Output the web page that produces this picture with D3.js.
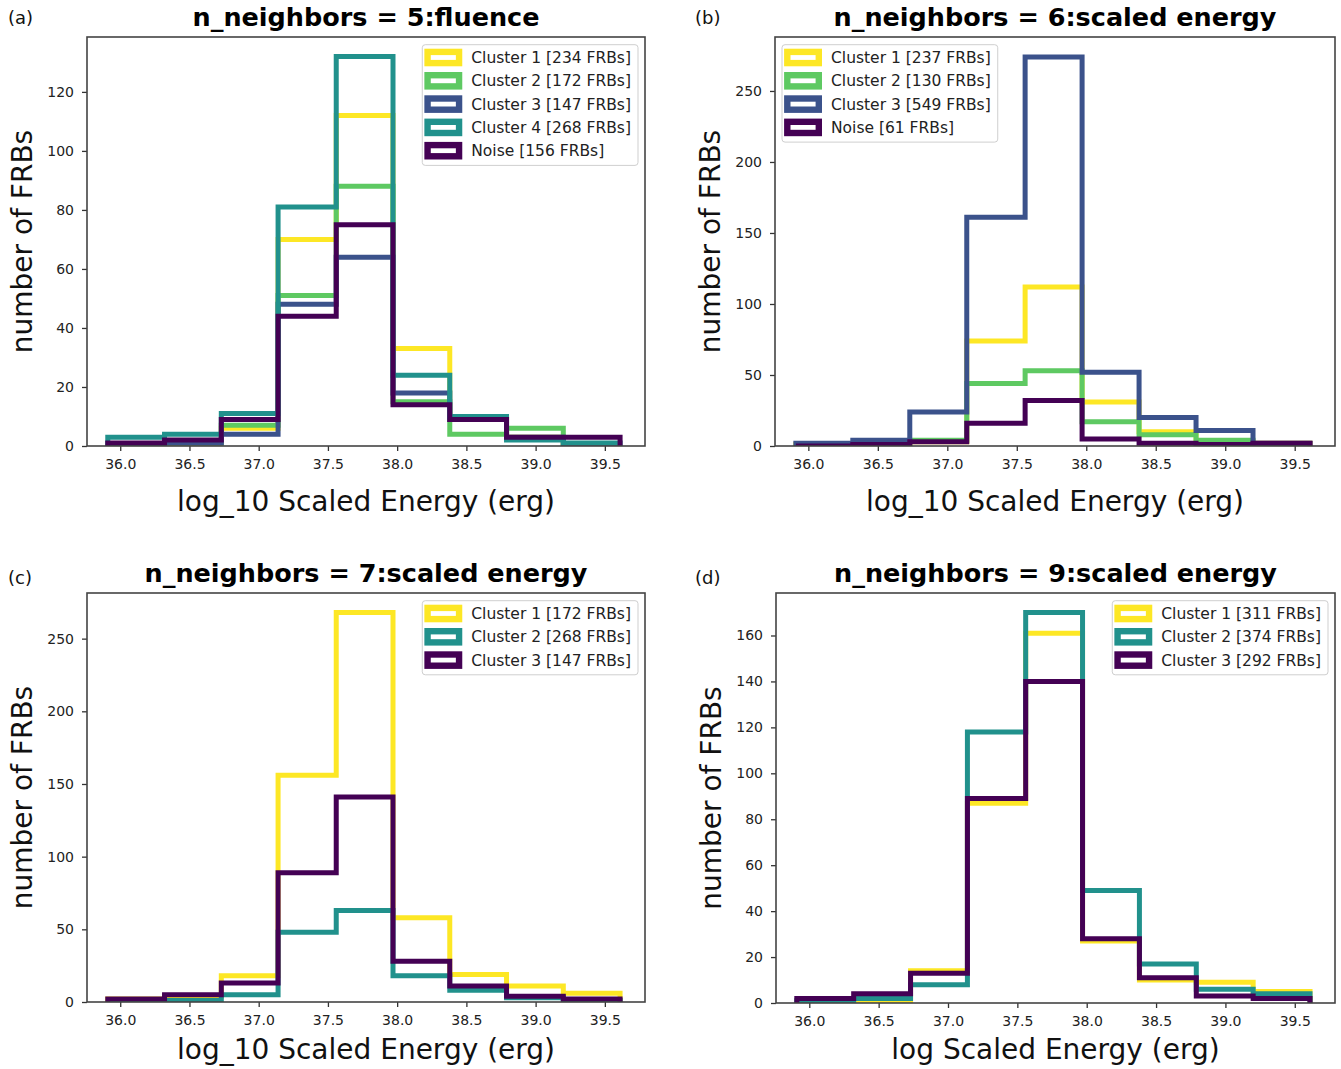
<!DOCTYPE html>
<html>
<head>
<meta charset="utf-8">
<script src="https://cdn.jsdelivr.net/npm/d3@7"></script>
<style>
  body { margin: 0; background: #fff; }
  svg { font-family: "DejaVu Sans", sans-serif; }
</style>
</head>
<body>
<svg id="fig" width="1341" height="1069"></svg>
<script>
// bin edges of the histograms (log10 scaled energy), shared by all panels
var binEdges = [35.91, 36.32, 36.73, 37.14, 37.56, 37.97, 38.38, 38.79, 39.20, 39.61];
var xTicks = [36.0, 36.5, 37.0, 37.5, 38.0, 38.5, 39.0, 39.5];

// (a) n_neighbors = 5 : fluence
var aLabels = ["Cluster 1 [234 FRBs]", "Cluster 2 [172 FRBs]", "Cluster 3 [147 FRBs]", "Cluster 4 [268 FRBs]", "Noise [156 FRBs]"];
var aCluster1 = [0, 1, 6, 70, 112, 33, 9, 3, 0];
var aCluster2 = [0, 1, 7, 51, 88, 15, 4, 6, 0];
var aCluster3 = [0, 1, 4, 48, 64, 18, 9, 3, 0];
var aCluster4 = [3, 4, 11, 81, 132, 24, 10, 2, 1];
var aNoise    = [1, 2, 9, 44, 75, 14, 9, 3, 3];
var aYTicks = [0, 20, 40, 60, 80, 100, 120];

// (b) n_neighbors = 6 : scaled energy
var bLabels = ["Cluster 1 [237 FRBs]", "Cluster 2 [130 FRBs]", "Cluster 3 [549 FRBs]", "Noise [61 FRBs]"];
var bCluster1 = [1, 1, 3, 74, 112, 31, 10, 3, 2];
var bCluster2 = [0, 0, 4, 44, 53, 17, 8, 4, 0];
var bCluster3 = [2, 4, 24, 161, 274, 52, 20, 11, 2];
var bNoise    = [0, 1, 3, 16, 32, 5, 2, 1, 2];
var bYTicks = [0, 50, 100, 150, 200, 250];

// (c) n_neighbors = 7 : scaled energy
var cLabels = ["Cluster 1 [172 FRBs]", "Cluster 2 [268 FRBs]", "Cluster 3 [147 FRBs]"];
var cCluster1 = [2, 4, 18, 156, 268, 58, 19, 11, 6];
var cCluster2 = [0, 1, 5, 48, 63, 18, 8, 3, 1];
var cCluster3 = [2, 5, 13, 89, 141, 28, 11, 4, 2];
var cYTicks = [0, 50, 100, 150, 200, 250];

// (d) n_neighbors = 9 : scaled energy
var dLabels = ["Cluster 1 [311 FRBs]", "Cluster 2 [374 FRBs]", "Cluster 3 [292 FRBs]"];
var dCluster1 = [0, 1, 14, 87, 161, 27, 10, 9, 5];
var dCluster2 = [1, 2, 8, 118, 170, 49, 17, 6, 4];
var dCluster3 = [2, 4, 13, 89, 140, 28, 11, 3, 2];
var dYTicks = [0, 20, 40, 60, 80, 100, 120, 140, 160];

// viridis picks
var yellow = "#fde725", green = "#5ec962", teal = "#21918c", blue = "#3b528b", purple = "#440154";

var svg = d3.select("#fig");

var panels = [
  {tag: "(a)", tagX: 8, tagY: 24, title: "n_neighbors = 5:fluence", xlabel: "log_10 Scaled Energy (erg)",
   left: 87, top: 37, width: 558, height: 409, yMax: 138.6, yTicks: aYTicks, xlabelOff: 65,
   labels: aLabels, counts: [aCluster1, aCluster2, aCluster3, aCluster4, aNoise],
   colors: [yellow, green, blue, teal, purple], legend: "right"},
  {tag: "(b)", tagX: 695, tagY: 24, title: "n_neighbors = 6:scaled energy", xlabel: "log_10 Scaled Energy (erg)",
   left: 775, top: 37, width: 560, height: 409, yMax: 288, yTicks: bYTicks, xlabelOff: 65,
   labels: bLabels, counts: [bCluster1, bCluster2, bCluster3, bNoise],
   colors: [yellow, green, blue, purple], legend: "left"},
  {tag: "(c)", tagX: 8, tagY: 584, title: "n_neighbors = 7:scaled energy", xlabel: "log_10 Scaled Energy (erg)",
   left: 87, top: 593, width: 558, height: 409, yMax: 281.4, yTicks: cYTicks, xlabelOff: 57,
   labels: cLabels, counts: [cCluster1, cCluster2, cCluster3],
   colors: [yellow, teal, purple], legend: "right"},
  {tag: "(d)", tagX: 695, tagY: 584, title: "n_neighbors = 9:scaled energy", xlabel: "log Scaled Energy (erg)",
   left: 776, top: 593, width: 559, height: 410, yMax: 178.5, yTicks: dYTicks, xlabelOff: 56,
   labels: dLabels, counts: [dCluster1, dCluster2, dCluster3],
   colors: [yellow, teal, purple], legend: "right"}
];

function drawPanel(p, idx) {
  var g = svg.append("g").attr("transform", `translate(${p.left},${p.top})`);

  var x = d3.scaleLinear().domain([35.76, 39.79]).range([0, p.width]);
  var y = d3.scaleLinear().domain([0, p.yMax]).range([p.height, 0]);

  g.append("clipPath").attr("id", "clip" + idx)
    .append("rect").attr("width", p.width).attr("height", p.height);

  //step histograms
  var line = d3.line().x(d => x(d[0])).y(d => y(d[1]));
  p.counts.forEach(function(c, i) {
    var pts = [[binEdges[0], 0]];
    c.forEach(function(v, j) {
      pts.push([binEdges[j], v]);
      pts.push([binEdges[j + 1], v]);
    });
    pts.push([binEdges[binEdges.length - 1], 0]);
    g.append("path")
      .attr("d", line(pts))
      .attr("clip-path", `url(#clip${idx})`)
      .attr("fill", "none")
      .attr("stroke", p.colors[i])
      .attr("stroke-width", 5)
      .attr("stroke-linejoin", "miter");
  });

  //axes
  var gx = g.append("g")
    .attr("transform", `translate(0,${p.height})`)
    .call(d3.axisBottom(x).tickValues(xTicks).tickFormat(d3.format(".1f")).tickSize(5).tickSizeOuter(0).tickPadding(8));
  var gy = g.append("g")
    .call(d3.axisLeft(y).tickValues(p.yTicks).tickFormat(d3.format("d")).tickSize(5).tickSizeOuter(0).tickPadding(8));
  [gx, gy].forEach(function(a) {
    a.select(".domain").remove();
    a.selectAll("line").attr("stroke", "#333").attr("stroke-width", 1.3);
    a.selectAll("text").attr("fill", "#222").style("font-size", "14px").style("font-family", "DejaVu Sans");
  });

  //frame
  g.append("rect")
    .attr("width", p.width).attr("height", p.height)
    .attr("fill", "none").attr("stroke", "#444").attr("stroke-width", 1.6);

  //texts
  g.append("text")
    .attr("x", p.width / 2).attr("y", -11)
    .attr("text-anchor", "middle")
    .attr("font-weight", "bold").style("font-size", "25.5px")
    .text(p.title);
  g.append("text")
    .attr("x", p.width / 2).attr("y", p.height + p.xlabelOff)
    .attr("text-anchor", "middle")
    .style("font-size", "28px").attr("fill", "#111")
    .text(p.xlabel);
  g.append("text")
    .attr("transform", `translate(${-55},${p.height / 2}) rotate(-90)`)
    .attr("text-anchor", "middle")
    .style("font-size", "28px").attr("fill", "#111")
    .text("number of FRBs");
  svg.append("text")
    .attr("x", p.tagX).attr("y", p.tagY)
    .style("font-size", "18px").attr("fill", "#111")
    .text(p.tag);

  //legend
  var rowGap = 23.3;
  var lg = g.append("g");
  var box = lg.append("rect")
    .attr("rx", 3)
    .attr("fill", "white").attr("fill-opacity", 0.8)
    .attr("stroke", "#cfcfcf").attr("stroke-width", 1);
  var maxLen = 0;
  p.labels.forEach(function(lab, i) {
    var cy = 12.8 + i * rowGap;
    lg.append("rect")
      .attr("x", 5.3).attr("y", cy - 5.6)
      .attr("width", 31.5).attr("height", 11.2)
      .attr("fill", "none").attr("stroke", p.colors[i]).attr("stroke-width", 6.4);
    var t = lg.append("text")
      .attr("x", 49).attr("y", cy).attr("dy", "0.36em")
      .style("font-size", "15.5px").attr("fill", "#222")
      .text(lab);
    maxLen = Math.max(maxLen, t.node().getComputedTextLength());
  });
  var boxW = 49 + maxLen + 7;
  var boxH = 12.8 + (p.labels.length - 1) * rowGap + 14.7;
  box.attr("x", 0).attr("y", 0).attr("width", boxW).attr("height", boxH);
  var lx = p.legend == "right" ? p.width - 7 - boxW : 7;
  lg.attr("transform", `translate(${lx},7.7)`);
}

panels.forEach(drawPanel);
</script>
</body>
</html>
